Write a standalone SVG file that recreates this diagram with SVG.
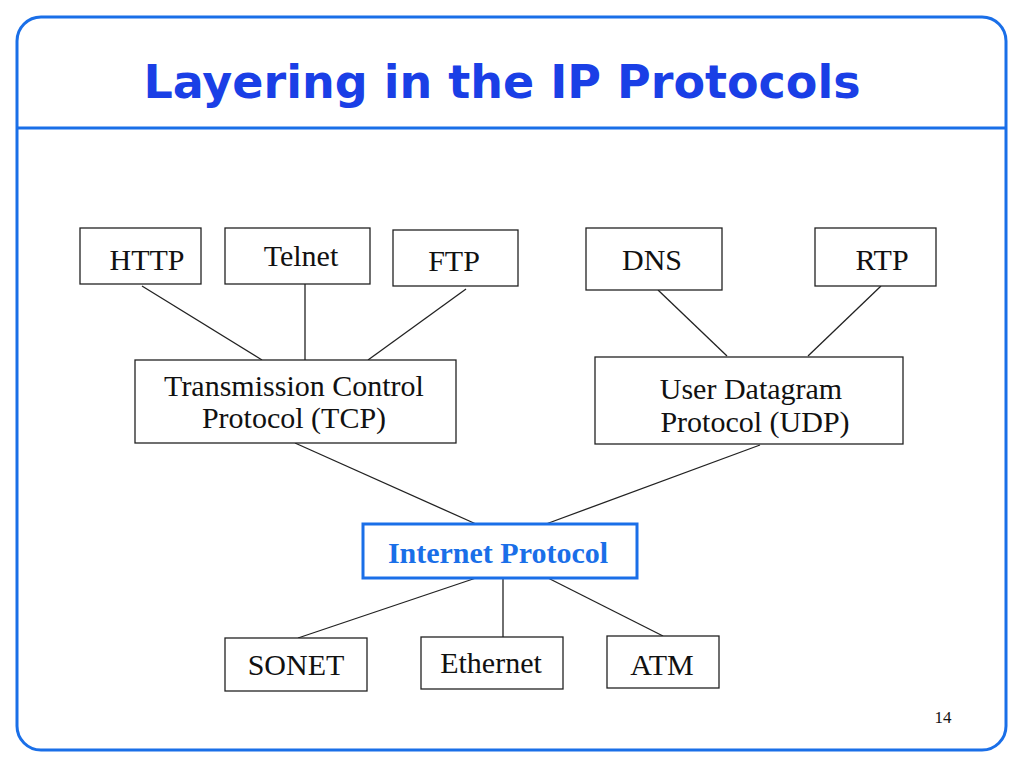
<svg xmlns="http://www.w3.org/2000/svg" width="1024" height="768" viewBox="0 0 1024 768">
<style>
.n{fill:#fff;stroke:#222;stroke-width:1.3}
.t{font-family:"Liberation Serif",serif;font-size:30px;fill:#111;text-anchor:middle}
.c line{stroke:#222;stroke-width:1.3}
</style>
<rect width="1024" height="768" fill="#fff"/>
<rect x="17" y="17" width="989" height="733" rx="24" fill="#fff" stroke="#1a6fe8" stroke-width="3"/>
<line x1="17" y1="128" x2="1006" y2="128" stroke="#1a6fe8" stroke-width="3"/>
<text x="502" y="98" font-family="'DejaVu Sans',sans-serif" font-weight="bold" font-size="46" fill="#1a3fe6" text-anchor="middle">Layering in the IP Protocols</text>
<g class="c">
<line x1="142" y1="286" x2="262" y2="360"/><line x1="305" y1="284" x2="305" y2="360"/><line x1="466" y1="289" x2="368" y2="360"/>
<line x1="658" y1="290" x2="727" y2="356"/><line x1="881" y1="286" x2="808" y2="356"/>
<line x1="295" y1="443" x2="476" y2="524"/><line x1="760" y1="445" x2="546" y2="524"/>
<line x1="476" y1="578" x2="298" y2="638"/><line x1="503" y1="578" x2="503" y2="637"/><line x1="548" y1="578" x2="663" y2="636"/>
</g>
<g id="http"><rect class="n" x="80" y="228" width="121" height="56"/><text class="t" x="147" y="270">HTTP</text></g>
<g id="telnet"><rect class="n" x="225" y="228" width="145" height="56"/><text class="t" x="301" y="266">Telnet</text></g>
<g id="ftp"><rect class="n" x="393" y="230" width="125" height="56"/><text class="t" x="454" y="271">FTP</text></g>
<g id="dns"><rect class="n" x="586" y="228" width="136" height="62"/><text class="t" x="652" y="270">DNS</text></g>
<g id="rtp"><rect class="n" x="815" y="228" width="121" height="58"/><text class="t" x="882" y="270">RTP</text></g>
<g id="tcp"><rect class="n" x="135" y="360" width="321" height="83"/><text class="t" x="294" y="396">Transmission Control</text><text class="t" x="294" y="428">Protocol (TCP)</text></g>
<g id="udp"><rect class="n" x="595" y="357" width="308" height="87"/><text class="t" x="751" y="399">User Datagram</text><text class="t" x="755" y="432">Protocol (UDP)</text></g>
<g id="ip"><rect x="363" y="524" width="274" height="54" fill="#fff" stroke="#1a6fe8" stroke-width="3"/><text class="t" x="498" y="563" font-weight="bold" fill="#1a6fe8" style="fill:#1a6fe8">Internet Protocol</text></g>
<g id="sonet"><rect class="n" x="225" y="638" width="142" height="53"/><text class="t" x="296" y="675">SONET</text></g>
<g id="ethernet"><rect class="n" x="421" y="637" width="142" height="52"/><text class="t" x="491" y="673">Ethernet</text></g>
<g id="atm"><rect class="n" x="607" y="636" width="112" height="52"/><text class="t" x="662" y="675">ATM</text></g>
<text x="943" y="723" font-family="'Liberation Serif',serif" font-size="17" fill="#111" text-anchor="middle">14</text>
</svg>
